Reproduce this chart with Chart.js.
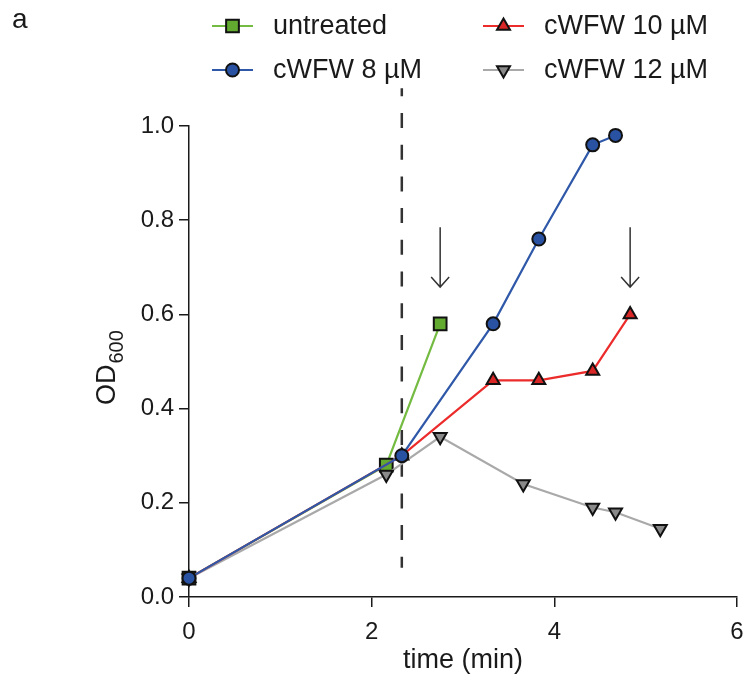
<!DOCTYPE html>
<html>
<head>
<meta charset="utf-8">
<script src="https://cdn.jsdelivr.net/npm/chart.js@4"></script>
<style>
  html, body { margin: 0; padding: 0; background: #fff; }
  #wrap { width: 744px; height: 677px; }
</style>
</head>
<body>
<div id="wrap"><canvas id="c" width="744" height="677"></canvas></div>
<script>
// values
const timeUntreated = [0, 2.16, 2.75];
const odUntreated   = [0.04, 0.28, 0.58];
const time8  = [0, 2.33, 3.33, 3.83, 4.42, 4.67];
const od8    = [0.04, 0.30, 0.58, 0.76, 0.96, 0.98];
const time10 = [0, 2.33, 3.33, 3.83, 4.42, 4.83];
const od10   = [0.04, 0.30, 0.46, 0.46, 0.48, 0.60];
const time12 = [0, 2.16, 2.75, 3.66, 4.42, 4.67, 5.16];
const od12   = [0.04, 0.26, 0.34, 0.24, 0.19, 0.18, 0.145];

const treatTime = 2.33;          // dashed line
const dashSpan = [1.08, 0.062];  // y range of the dashed line
const arrowTimes = [2.75, 4.83];
const arrowSpan = [0.785, 0.658];

const xTicks = [0, 2, 4, 6];
const yTicks = [0, 0.2, 0.4, 0.6, 0.8, 1.0];

const FONT = '"Liberation Sans", Arial, sans-serif';
const INK = '#1a1a1a';

const pts = (xs, ys) => xs.map((x, k) => ({ x, y: ys[k] }));

const series = [
  { label: 'untreated',   data: pts(timeUntreated, odUntreated), line: '#74bb42', fill: '#63ab30', style: 'rect',     radius: 9,   rot: 0,   order: 4 },
  { label: 'cWFW 10 µM',  data: pts(time10, od10),               line: '#ec2b2b', fill: '#d92626', style: 'triangle', radius: 7.5, rot: 0,   order: 2 },
  { label: 'cWFW 8 µM',   data: pts(time8, od8),                 line: '#2f58a8', fill: '#2a52a3', style: 'circle',   radius: 6.5, rot: 0,   order: 1 },
  { label: 'cWFW 12 µM',  data: pts(time12, od12),               line: '#a9a9a9', fill: '#8a8a8a', style: 'triangle', radius: 7.5, rot: 180, order: 3 },
];

const datasets = series.map(s => ({
  label: s.label,
  data: s.data,
  borderColor: s.line,
  borderWidth: 2.2,
  pointStyle: s.style,
  pointRadius: s.radius,
  pointHoverRadius: s.radius,
  pointRotation: s.rot,
  pointBackgroundColor: s.fill,
  pointBorderColor: '#111',
  pointBorderWidth: 2,
  tension: 0,
  clip: false,
  order: s.order,
}));

datasets.push({
  label: 'treatment',
  data: [{ x: treatTime, y: dashSpan[0] }, { x: treatTime, y: dashSpan[1] }],
  borderColor: '#333',
  borderWidth: 2.5,
  borderDash: [15, 16.7],
  borderDashOffset: 7,
  pointRadius: 0,
  clip: false,
  order: 10,
});

// legend, y title, arrows and panel letter
const extras = {
  id: 'extras',
  afterDraw(chart) {
    const { ctx, scales: { x, y } } = chart;
    ctx.save();

    // arrows
    ctx.strokeStyle = '#333';
    ctx.lineWidth = 1.5;
    arrowTimes.forEach(t => {
      const px = x.getPixelForValue(t);
      const y0 = y.getPixelForValue(arrowSpan[0]);
      const y1 = y.getPixelForValue(arrowSpan[1]);
      ctx.beginPath();
      ctx.moveTo(px, y0); ctx.lineTo(px, y1);
      ctx.moveTo(px - 9, y1 - 10); ctx.lineTo(px, y1); ctx.lineTo(px + 9, y1 - 10);
      ctx.stroke();
    });

    // y title with subscript
    ctx.fillStyle = INK;
    ctx.translate(115, 405);
    ctx.rotate(-Math.PI / 2);
    ctx.textBaseline = 'alphabetic';
    ctx.textAlign = 'left';
    ctx.font = '27px ' + FONT;
    ctx.fillText('OD', 0, 0);
    const w = ctx.measureText('OD').width;
    ctx.font = '20px ' + FONT;
    ctx.fillText('600', w + 1, 8);
    ctx.setTransform(1, 0, 0, 1, 0, 0);

    // panel letter
    ctx.font = '28px ' + FONT;
    ctx.fillText('a', 12, 28);

    // legend in two columns
    const cols = [212, 483];
    const rows = [26, 70];
    const place = [[0, 0], [1, 0], [0, 1], [1, 1]];
    ctx.textBaseline = 'middle';
    ctx.font = '27px ' + FONT;
    series.forEach((s, k) => {
      const lx = cols[place[k][0]], ly = rows[place[k][1]];
      ctx.strokeStyle = s.line;
      ctx.lineWidth = 2.2;
      ctx.beginPath(); ctx.moveTo(lx, ly); ctx.lineTo(lx + 41, ly); ctx.stroke();
      ctx.fillStyle = s.fill;
      ctx.strokeStyle = '#111';
      ctx.lineWidth = 2;
      Chart.helpers.drawPoint(ctx, { pointStyle: s.style, radius: s.radius, rotation: s.rot, borderWidth: 2 }, lx + 20.5, ly);
      ctx.fillStyle = INK;
      ctx.fillText(s.label, lx + 61, ly + 1);
    });
    ctx.restore();
  }
};

new Chart(document.getElementById('c'), {
  type: 'line',
  data: { datasets },
  options: {
    responsive: false,
    animation: false,
    layout: { autoPadding: false, padding: { top: 126, right: 7, left: 0, bottom: 0 } },
    plugins: { legend: { display: false }, tooltip: { enabled: false } },
    scales: {
      x: {
        type: 'linear', min: 0, max: 6,
        afterBuildTicks: s => { s.ticks = xTicks.map(v => ({ value: v })); },
        afterFit: s => { s.height = 80; s.paddingLeft = 0; s.paddingRight = 0; },
        grid: { drawOnChartArea: false, drawTicks: true, tickLength: 10, color: INK, lineWidth: 1.5 },
        border: { color: INK, width: 1.5 },
        ticks: { color: INK, font: { family: FONT, size: 24 }, padding: 11 },
        title: { display: true, text: 'time (min)', color: INK, font: { family: FONT, size: 27 }, padding: { top: 0, bottom: 0 } },
      },
      y: {
        type: 'linear', min: 0, max: 1.0,
        afterBuildTicks: s => { s.ticks = yTicks.map(v => ({ value: v })); },
        afterFit: s => { s.width = 189; s.paddingTop = 0; s.paddingBottom = 0; },
        grid: { drawOnChartArea: false, drawTicks: true, tickLength: 10, color: INK, lineWidth: 1.5 },
        border: { color: INK, width: 1.5 },
        ticks: { color: INK, font: { family: FONT, size: 24 }, padding: 5, callback: v => v.toFixed(1) },
      },
    },
  },
  plugins: [extras],
});
</script>
</body>
</html>
